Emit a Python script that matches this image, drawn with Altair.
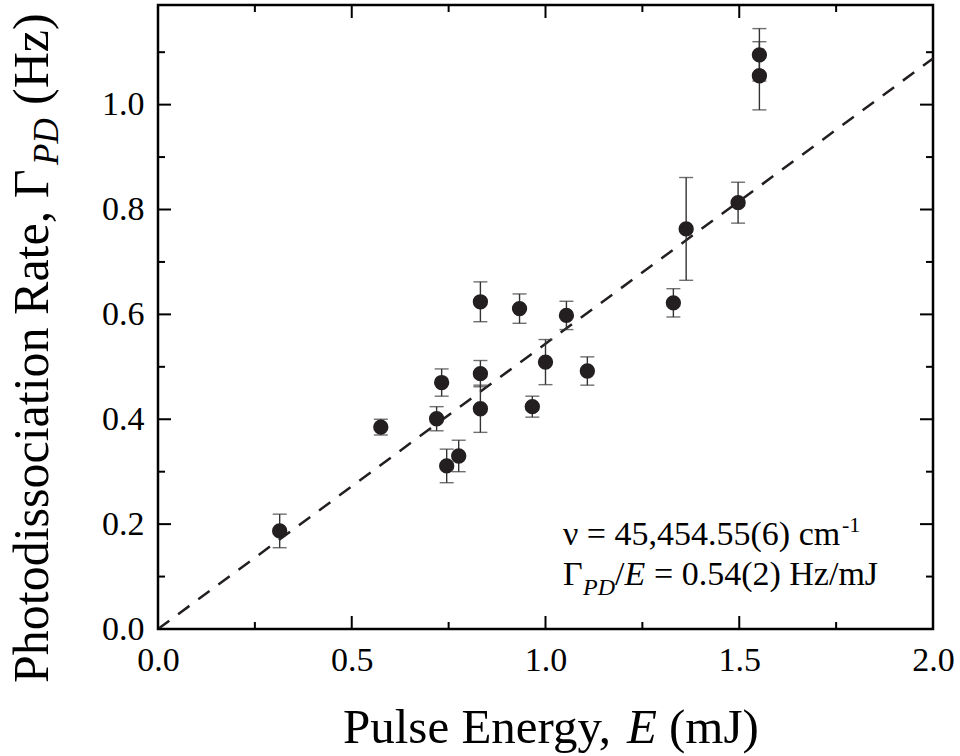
import altair as alt
import pandas as pd

# ---- data ----
energy = [0.314, 0.575, 0.719, 0.732, 0.745, 0.776, 0.832, 0.832, 0.832, 0.933,
          0.966, 1.000, 1.054, 1.108, 1.330, 1.363, 1.497, 1.552, 1.552]
rate = [0.187, 0.385, 0.401, 0.470, 0.311, 0.330, 0.487, 0.420, 0.624, 0.611,
        0.424, 0.509, 0.598, 0.492, 0.622, 0.763, 0.813, 1.095, 1.055]
rate_err = [0.032, 0.015, 0.023, 0.026, 0.032, 0.030, 0.025, 0.045, 0.038, 0.028,
            0.020, 0.043, 0.027, 0.027, 0.027, 0.098, 0.039, 0.050, 0.065]

fit_energy = [0.0, 2.0]
fit_rate = [0.0, 1.088]

x_major = [0.0, 0.5, 1.0, 1.5, 2.0]
x_minor = [0.25, 0.75, 1.25, 1.75]
y_major = [0.0, 0.2, 0.4, 0.6, 0.8, 1.0]
y_minor = [0.1, 0.3, 0.5, 0.7, 0.9, 1.1]

W, H = 775, 624
FONT = "Liberation Serif"
INK = "#231f20"

pts = pd.DataFrame({"E": energy, "R": rate, "err": rate_err})
pts["lo"] = pts["R"] - pts["err"]
pts["hi"] = pts["R"] + pts["err"]
fit = pd.DataFrame({"E": fit_energy, "R": fit_rate})

xs = alt.Scale(domain=[0, 2.0], nice=False, zero=False)
ys = alt.Scale(domain=[0, 1.19], nice=False, zero=False)
xaxis = alt.Axis(values=x_major, format=".1f", title=None, ticks=False, domain=False,
                 grid=False, labelFont=FONT, labelFontSize=34, labelColor="black",
                 labelPadding=14, labelFlush=False, labelOverlap=False, labelBound=False)
yaxis = alt.Axis(values=y_major, format=".1f", title=None, ticks=False, domain=False,
                 grid=False, labelFont=FONT, labelFontSize=34, labelColor="black",
                 labelPadding=14, labelOverlap=False, labelBound=False)


def X(f):
    return alt.X(f, type="quantitative", scale=xs, axis=xaxis)


def Y(f):
    return alt.Y(f, type="quantitative", scale=ys, axis=yaxis)


base = alt.Chart(pts)

err_bars = base.mark_rule(color="#333333", strokeWidth=1.4).encode(x=X("E"), y=Y("lo"), y2="hi")
cap_lo = base.mark_tick(orient="horizontal", size=14, thickness=1.4, color="#333333").encode(x=X("E"), y=Y("lo"))
cap_hi = base.mark_tick(orient="horizontal", size=14, thickness=1.4, color="#333333").encode(x=X("E"), y=Y("hi"))
dots = base.mark_circle(size=235, color=INK, opacity=1).encode(x=X("E"), y=Y("R"))

fit_line = alt.Chart(fit).mark_line(color=INK, strokeWidth=2.5, strokeDash=[14, 11]).encode(
    x=X("E"), y=Y("R"))

# inward ticks
def xticks(vals, length):
    df = pd.DataFrame({"v": vals})
    bot = alt.Chart(df).mark_rule(color="black", strokeWidth=2).encode(
        x=X("v"), y=alt.value(H), y2=alt.value(H - length))
    top = alt.Chart(df).mark_rule(color="black", strokeWidth=2).encode(
        x=X("v"), y=alt.value(0), y2=alt.value(length))
    return [bot, top]


def yticks(vals, length):
    df = pd.DataFrame({"v": vals})
    lft = alt.Chart(df).mark_rule(color="black", strokeWidth=2).encode(
        y=Y("v"), x=alt.value(0), x2=alt.value(length))
    rgt = alt.Chart(df).mark_rule(color="black", strokeWidth=2).encode(
        y=Y("v"), x=alt.value(W), x2=alt.value(W - length))
    return [lft, rgt]


ticks = xticks(x_major, 13) + xticks(x_minor, 7) + yticks(y_major, 13) + yticks(y_minor, 7)


def label(txt, x, y, size, italic=False, angle=0):
    df = pd.DataFrame({"t": [txt]})
    kw = dict(align="left", baseline="alphabetic", font=FONT, fontSize=size,
              fontStyle="italic" if italic else "normal", color="black")
    if angle:
        kw["angle"] = angle
    return alt.Chart(df).mark_text(**kw).encode(text="t:N", x=alt.value(x), y=alt.value(y))


texts = [
    # annotation
    label("ν = 45,454.55(6) cm", 405, 540, 34),
    label("-1", 684, 527, 22),
    label("Γ", 405, 580, 34),
    label("PD", 425, 590, 24, italic=True),
    label("/", 457, 580, 34),
    label("E", 466.5, 580, 34, italic=True),
    label("= 0.54(2) Hz/mJ", 496, 580, 34),
    # x title
    label("Pulse Energy,", 185, 738, 49),
    label("E", 469, 738, 49, italic=True),
    label("(mJ)", 511, 738, 49),
    # y title
    label("Photodissociation Rate, Γ", -110, 678, 50, angle=270),
    label("PD", -100, 160, 35, italic=True, angle=270),
    label("(Hz)", -110, 100, 50, angle=270),
]

chart = alt.layer(fit_line, err_bars, cap_lo, cap_hi, dots, *ticks, *texts).properties(
    width=W, height=H,
    autosize=alt.AutoSizeParams(type="none"),
    padding={"left": 158, "top": 5, "right": 27, "bottom": 127},
    background="white",
).configure_view(stroke="black", strokeWidth=2.5)

chart.save("out.html", embed_options={"renderer": "svg", "actions": False})
